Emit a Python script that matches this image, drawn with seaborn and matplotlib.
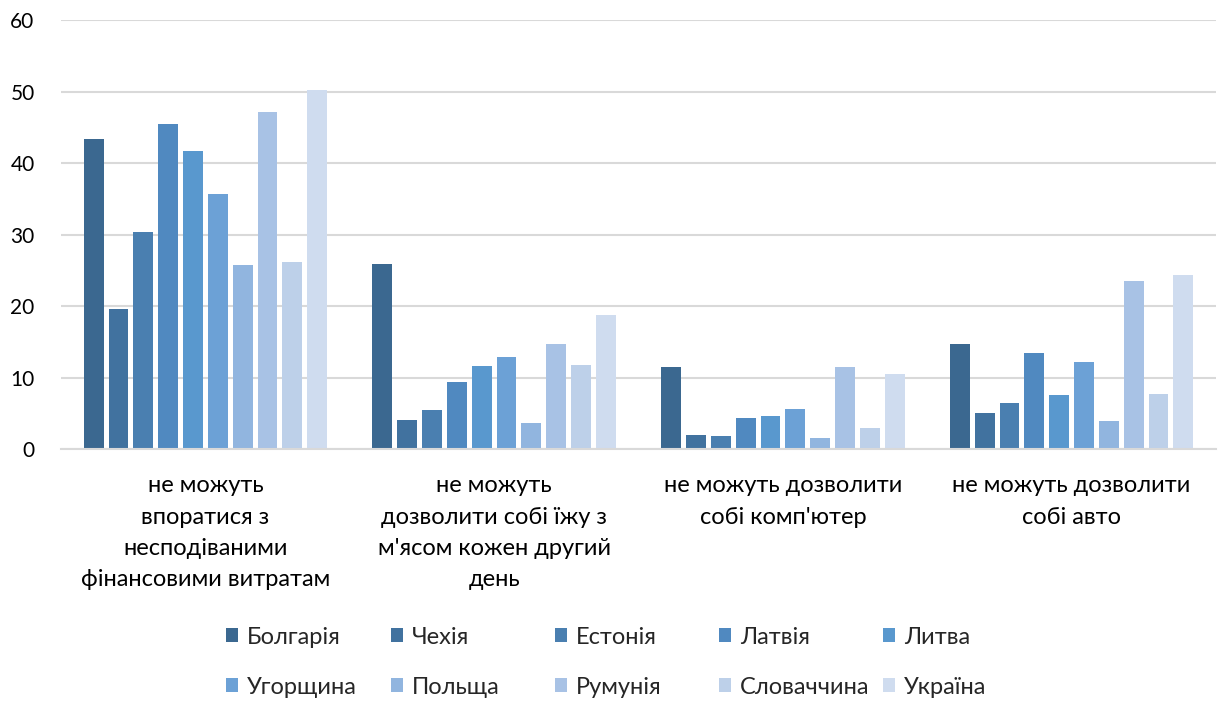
import matplotlib
matplotlib.use("Agg")
import matplotlib.pyplot as plt
import seaborn as sns
import pandas as pd

categories = [
    "не можуть\nвпоратися з\nнесподіваними\nфінансовими витратам",
    "не можуть\nдозволити собі їжу з\nм'ясом кожен другий\nдень",
    "не можуть дозволити\nсобі комп'ютер",
    "не можуть дозволити\nсобі авто",
]
countries = ["Болгарія", "Чехія", "Естонія", "Латвія", "Литва",
             "Угорщина", "Польща", "Румунія", "Словаччина", "Україна"]
bulgaria = [43.4, 25.9, 11.4, 14.7]
czechia = [19.6, 4.1, 2.0, 5.1]
estonia = [30.4, 5.5, 1.8, 6.5]
latvia = [45.5, 9.4, 4.4, 13.4]
lithuania = [41.7, 11.6, 4.6, 7.5]
hungary = [35.7, 12.8, 5.6, 12.2]
poland = [25.7, 3.6, 1.6, 3.9]
romania = [47.2, 14.7, 11.5, 23.5]
slovakia = [26.1, 11.8, 2.9, 7.7]
ukraine = [50.2, 18.7, 10.5, 24.4]
series = [bulgaria, czechia, estonia, latvia, lithuania,
          hungary, poland, romania, slovakia, ukraine]
colors = ["#3B6890", "#41729F", "#4A7FB0", "#5089C0", "#5998CE",
          "#6CA1D6", "#91B5DF", "#A8C2E5", "#BDD0E9", "#CFDCEF"]

rows = []
for c, vals in zip(countries, series):
    for cat, v in zip(categories, vals):
        rows.append({"cat": cat, "country": c, "value": v})
df = pd.DataFrame(rows)

sns.set_theme(style="white")
plt.rcParams["font.family"] = ["Lato", "DejaVu Sans"]

fig = plt.figure(figsize=(12.3, 7.02), dpi=100)
ax = fig.add_axes([0.0496, 0.3604, 0.9390, 0.6111])

sns.barplot(data=df, x="cat", y="value", hue="country", order=categories,
            hue_order=countries, palette=colors, width=0.86, gap=0.2,
            linewidth=0, saturation=1, ax=ax, legend=True)

ax.set_ylim(0, 60)
ax.set_yticks(range(0, 61, 10))
ax.set_xlim(-0.5, 3.5)
ax.set_xlabel("")
ax.set_ylabel("")
ax.yaxis.grid(True, color="#D9D9D9", linewidth=1.5)
ax.set_axisbelow(True)
for s in ["top", "right", "left"]:
    ax.spines[s].set_visible(False)
ax.spines["bottom"].set_color("#D9D9D9")
ax.spines["bottom"].set_linewidth(1.5)
ax.tick_params(axis="both", length=0, colors="#000000")
ax.tick_params(axis="y", pad=19, labelsize=15)
ax.tick_params(axis="x", pad=19, labelsize=17)
for lbl in ax.get_xticklabels():
    lbl.set_linespacing(1.6)
    lbl.set_verticalalignment("top")

handles, labels = ax.get_legend_handles_labels()
ax.get_legend().remove()
xs = [226, 391, 555, 719, 883]
ys = [637, 687]
for i, (h, l) in enumerate(zip(handles, labels)):
    r, c = divmod(i, 5)
    fig.legend([h], [l], loc="center left",
               bbox_to_anchor=(xs[c] / 1230, 1 - ys[r] / 702),
               frameon=False, fontsize=17, handlelength=0.5,
               handleheight=0.5, handletextpad=0.4, borderpad=0,
               borderaxespad=0)

fig.savefig("out.png", dpi=100)
